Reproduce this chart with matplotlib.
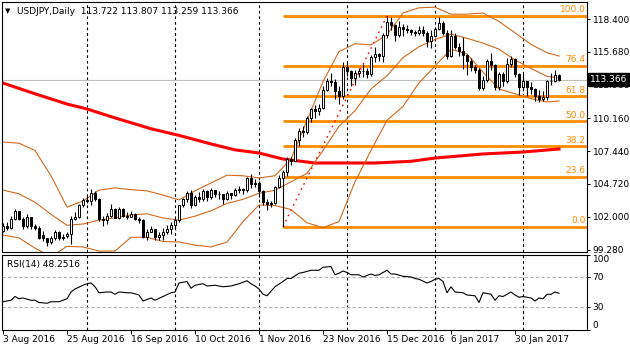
import matplotlib
matplotlib.use("Agg")
import matplotlib.pyplot as plt
import pandas as pd

# daily bars, 3 Aug 2016 .. 14 Feb 2017
bars = pd.bdate_range("2016-08-03", "2017-02-14")

opens = [100.85, 101.20, 101.10, 101.85, 102.45, 101.85, 101.20, 101.95, 101.25, 101.05,
         100.50, 100.20, 99.90, 100.25, 100.75, 100.25, 100.40, 100.55, 101.85, 102.00,
         102.95, 103.40, 103.30, 104.00, 103.45, 101.85, 101.75, 102.10, 102.65, 101.90,
         102.65, 102.10, 102.00, 102.25, 101.80, 101.70, 100.35, 100.75, 100.95, 100.35,
         100.45, 100.70, 101.00, 101.30, 101.75, 102.95, 103.45, 103.95, 102.95, 103.65,
         103.50, 104.15, 103.60, 104.20, 103.85, 103.85, 103.50, 103.95, 103.80, 104.20,
         104.30, 104.20, 105.25, 104.70, 104.80, 104.15, 103.20, 103.05, 103.15, 104.45,
         105.20, 105.70, 106.80, 106.65, 108.40, 109.15, 109.05, 110.20, 110.90, 110.75,
         111.05, 112.55, 113.30, 113.20, 112.40, 112.00, 114.45, 114.05, 113.50, 113.95,
         114.10, 114.05, 113.80, 115.25, 115.50, 115.30, 117.10, 118.15, 117.90, 117.10,
         117.70, 117.55, 117.45, 117.30, 117.25, 117.45, 117.20, 116.55, 117.00, 117.55,
         118.10, 117.25, 115.35, 117.00, 116.10, 115.75, 115.40, 114.90, 114.45, 114.20,
         112.70, 113.35, 114.90, 114.60, 112.75, 113.80, 113.25, 114.65, 115.10, 113.80,
         112.75, 113.25, 112.80, 112.60, 112.00, 111.75, 111.95, 113.25, 113.30, 113.722]
highs = [101.45, 101.55, 102.05, 102.65, 102.50, 101.95, 102.20, 102.00, 101.40, 101.25,
         100.85, 100.25, 100.40, 100.90, 100.85, 100.60, 100.70, 102.05, 102.40, 103.05,
         103.55, 103.75, 104.30, 104.10, 103.55, 102.05, 102.30, 103.05, 102.75, 102.80,
         102.75, 102.40, 102.45, 102.35, 101.95, 101.80, 100.95, 101.20, 101.00, 100.75,
         101.05, 101.30, 101.60, 101.90, 103.00, 103.55, 104.15, 104.20, 103.80, 104.05,
         104.30, 104.20, 104.35, 104.25, 104.10, 103.90, 104.10, 104.00, 104.40, 104.55,
         104.35, 105.30, 105.55, 105.10, 105.00, 104.25, 103.50, 103.35, 104.55, 105.45,
         105.90, 106.95, 106.95, 108.50, 109.35, 109.55, 110.35, 111.00, 111.30, 111.35,
         112.85, 113.50, 113.90, 113.40, 112.85, 114.80, 114.80, 114.15, 114.20, 114.30,
         114.70, 114.35, 115.40, 116.10, 115.60, 117.20, 118.66, 118.60, 118.00, 118.25,
         118.00, 117.90, 117.55, 117.45, 117.80, 117.85, 117.40, 117.50, 117.70, 118.60,
         118.20, 117.50, 117.50, 117.20, 116.45, 116.90, 115.50, 115.20, 114.60, 114.30,
         113.65, 115.05, 115.60, 114.70, 114.00, 114.00, 115.20, 115.35, 115.15, 113.95,
         113.90, 113.30, 113.15, 112.70, 112.50, 112.40, 113.35, 113.95, 114.15, 113.807]
lows = [100.70, 100.90, 100.95, 101.75, 101.70, 100.95, 101.10, 101.00, 100.90, 100.15,
        100.00, 99.55, 99.75, 100.05, 100.10, 100.05, 100.25, 99.75, 101.75, 101.90,
        102.85, 103.15, 102.95, 103.35, 101.65, 101.20, 101.40, 101.95, 101.90, 101.80,
        101.95, 101.85, 101.95, 101.70, 101.45, 100.20, 100.10, 100.70, 100.10, 100.10,
        100.10, 100.60, 100.60, 101.10, 101.60, 102.80, 103.20, 102.75, 102.90, 103.20,
        103.35, 103.30, 103.50, 103.60, 103.50, 103.10, 103.40, 103.50, 103.70, 104.00,
        103.90, 104.05, 104.40, 104.50, 103.60, 102.95, 102.55, 102.80, 103.10, 104.35,
        101.19, 105.40, 106.30, 106.60, 107.85, 108.60, 108.90, 109.90, 110.20, 110.40,
        110.95, 112.40, 112.85, 111.80, 111.36, 111.80, 113.70, 112.85, 112.90, 113.55,
        113.60, 113.50, 113.70, 114.80, 114.90, 114.80, 116.85, 117.50, 116.55, 116.90,
        117.00, 117.20, 117.10, 117.00, 117.05, 116.95, 116.05, 116.00, 116.90, 117.45,
        117.05, 115.05, 115.25, 115.90, 115.35, 114.25, 113.75, 114.10, 113.90, 112.55,
        112.50, 113.20, 114.20, 112.55, 112.50, 112.85, 113.10, 114.45, 113.55, 112.10,
        112.60, 112.05, 112.15, 111.60, 111.55, 111.60, 111.70, 112.90, 113.20, 113.259]
closes = [101.20, 101.10, 101.85, 102.45, 101.85, 101.20, 101.95, 101.25, 101.05, 100.25,
          100.20, 99.90, 100.25, 100.75, 100.25, 100.35, 100.55, 101.85, 102.00, 102.95,
          103.40, 103.30, 104.00, 103.45, 101.85, 101.75, 102.10, 102.65, 101.90, 102.65,
          102.10, 102.00, 102.25, 101.80, 101.70, 100.35, 100.75, 100.95, 100.35, 100.45,
          100.70, 101.00, 101.30, 101.75, 102.95, 103.45, 103.95, 102.95, 103.65, 103.50,
          104.15, 103.60, 104.20, 103.85, 103.87, 103.50, 103.95, 103.80, 104.20, 104.30,
          104.20, 105.25, 104.70, 104.80, 104.15, 103.20, 103.05, 103.15, 104.45, 105.20,
          105.70, 106.80, 106.65, 108.40, 109.15, 109.05, 110.20, 110.90, 110.75, 111.05,
          112.55, 113.30, 113.20, 112.40, 112.00, 114.45, 114.05, 113.50, 113.95, 114.10,
          114.05, 113.80, 115.25, 115.50, 115.30, 117.10, 118.15, 117.90, 117.10, 117.70,
          117.55, 117.45, 117.30, 117.25, 117.45, 117.20, 116.55, 117.00, 117.55, 118.10,
          117.25, 115.35, 117.00, 116.10, 115.75, 115.40, 114.90, 114.45, 114.20, 112.70,
          113.35, 114.90, 114.60, 112.75, 113.80, 113.25, 114.65, 115.10, 113.80, 112.75,
          113.25, 112.80, 112.60, 112.00, 111.75, 111.95, 113.25, 113.30, 113.72, 113.366]

# Bollinger bands (20, 2) read every 4th bar
bb_bars = list(range(0, 137, 4)) + [139]
bb_upper = [108.2, 108.1, 107.5, 105.4, 102.8, 103.3, 104.2, 104.4, 104.25, 104.15,
            103.8, 103.4, 104.15, 104.8, 105.45, 105.4, 105.22, 105.4, 106.8, 110.0,
            113.2, 115.7, 116.35, 116.25, 117.1, 118.9, 119.33, 119.38, 118.8, 118.8,
            118.9, 118.2, 117.25, 116.3, 115.6, 115.33]
bb_mid = [104.22, 103.9, 103.2, 102.2, 101.3, 101.4, 101.72, 101.92, 102.15, 102.25,
          101.9, 101.72, 102.05, 102.5, 103.1, 103.45, 103.95, 104.2, 104.9, 105.6,
          107.5, 109.5, 110.8, 112.6, 113.7, 115.2, 116.1, 116.7, 117.15, 116.8,
          116.4, 115.9, 115.0, 114.3, 113.65, 113.51]
bb_lower = [100.49, 100.25, 99.4, 98.7, 99.55, 99.5, 99.16, 99.16, 100.3, 100.3,
            99.95, 99.91, 99.65, 99.5, 99.9, 101.6, 102.98, 102.93, 102.6, 101.5,
            101.1, 101.6, 104.9, 107.5, 110.0, 111.15, 113.1, 114.5, 115.9, 115.5,
            114.0, 112.6, 112.2, 111.8, 111.52, 111.6]

# 200-day moving average
ma_bars = [0, 8, 16, 21, 28, 37, 44, 52, 58, 64, 70, 78, 87, 93, 102, 108, 120, 130, 139]
ma200 = [113.09, 112.2, 111.35, 110.94, 110.2, 109.3, 108.75, 108.04, 107.55, 107.29,
         106.79, 106.46, 106.46, 106.46, 106.6, 106.87, 107.21, 107.37, 107.62]

# RSI(14)
rsi_bars = [0, 2, 3, 4, 5, 7, 8, 9, 11, 12, 14, 16, 17, 18, 20, 21, 22, 23, 24, 26,
            27, 28, 29, 31, 32, 34, 35, 37, 38, 40, 42, 43, 44, 46, 47, 48, 50, 51, 53, 55,
            57, 59, 61, 62, 63, 64, 65, 66, 68, 70, 71, 72, 74, 75, 77, 79, 80, 82, 83, 84,
            85, 86, 87, 89, 90, 92, 93, 94, 96, 97, 98, 100, 102, 103, 104, 106, 107, 108, 109, 110,
            111, 112, 113, 115, 116, 118, 119, 120, 122, 123, 124, 125, 127, 128, 129, 130, 132, 133, 134, 135,
            136, 137, 138, 139]
rsi = [37, 39, 44, 41, 42, 39, 39, 36, 35, 37, 37, 41, 50, 54, 59, 61, 62, 57, 49, 50,
       50, 47, 50, 49, 49, 46, 38, 42, 39, 44, 49, 50, 62, 64, 55, 59, 61, 58, 59, 57,
       58, 61, 65, 61, 58, 54, 47, 45, 57, 64, 68, 68, 75, 76, 79, 79, 83, 84, 73, 75,
       78, 76, 73, 73, 70, 74, 72, 73, 79, 74, 74, 71, 70, 68, 67, 62, 64, 67, 68, 64,
       49, 57, 50, 49, 46, 45, 36, 49, 47, 39, 45, 44, 50, 46, 43, 44, 42, 38, 42, 41,
       47, 47, 50, 48.2516]

# fibonacci retracement anchors (swing low / swing high)
fib_low, fib_high = 101.19, 118.66
fib_low_bar, fib_high_bar = 70, 96
fib_levels = [0.0, 23.6, 38.2, 50.0, 61.8, 76.4, 100.0]

price_ticks = [118.400, 115.680, 112.960, 110.160, 107.440, 104.720, 102.000, 99.280]
date_labels = ["3 Aug 2016", "25 Aug 2016", "16 Sep 2016", "10 Oct 2016", "1 Nov 2016",
               "23 Nov 2016", "15 Dec 2016", "6 Jan 2017", "30 Jan 2017"]
grid_dates = ["2016-09-01", "2016-10-03", "2016-11-01", "2016-12-01", "2017-01-02", "2017-02-01"]
last_price = 113.366

plt.rcParams['font.family'] = ['DejaVu Sans']
FS = 6.5
W, H = 630, 350
fig = plt.figure(figsize=(6.3, 3.5), dpi=100)
ax = fig.add_axes([2/W, 1-252/H, 585/W, 250/H])
axr = fig.add_axes([2/W, 1-329.5/H, 585/W, 75/H], sharex=ax)

x = list(range(len(bars)))
xmin, xmax = -0.25, 146

# grid lines on month starts
for d in grid_dates:
  gi = bars.get_loc(pd.Timestamp(d))
  for a in (ax, axr):
    a.axvline(gi, color="black", lw=0.8, ls=(0, (2.5, 2.5)), zorder=1)

# bid line
ax.axhline(last_price, color="#c0c0c0", lw=0.8, zorder=1)

# fibonacci
for lv in fib_levels:
  p = fib_low + (fib_high - fib_low) * lv / 100
  ax.plot([fib_low_bar, xmax], [p, p], color="#ff8c00", lw=2.0, zorder=2, solid_capstyle="butt")
  ax.text(145.6, p + 0.12, f"{lv:.1f}", color="#ff8c00", fontsize=FS, ha="right", va="bottom", zorder=6)
ax.plot([fib_low_bar, fib_high_bar], [fib_low, fib_high], color="red", lw=1.0,
        ls=(0, (1.2, 3)), zorder=2)

# indicators
ax.plot(ma_bars, ma200, color="red", lw=2.2, zorder=2)
for band in (bb_upper, bb_mid, bb_lower):
  ax.plot(bb_bars, band, color="#d2691e", lw=0.8, zorder=2)

# candles
ax.vlines(x, lows, highs, color="black", lw=0.8, zorder=3)
bottoms = [min(o, c) for o, c in zip(opens, closes)]
heights = [max(abs(c - o), 0.03) for o, c in zip(opens, closes)]
faces = ["white" if c >= o else "black" for o, c in zip(opens, closes)]
ax.bar(x, heights, bottom=bottoms, width=0.55, color=faces, edgecolor="black", lw=0.7, zorder=4)

ax.set_xlim(xmin, xmax)
ax.set_ylim(99.08, 119.81)
ax.yaxis.tick_right()
ax.set_yticks(price_ticks)
ax.set_yticklabels([f"{t:.3f}" for t in price_ticks], fontsize=FS)
ax.tick_params(axis="y", length=2.5, width=0.7, pad=1.5)
ax.tick_params(axis="x", bottom=False, labelbottom=False)
ax.annotate(f"{last_price:.3f}", xy=(1, last_price), xycoords=("axes fraction", "data"),
            xytext=(2.2, 0), textcoords="offset points", fontsize=FS, color="white",
            va="center", ha="left",
            bbox=dict(boxstyle="square,pad=0.2", fc="black", ec="black"), zorder=10,
            annotation_clip=False)

fig.text(5/W, 1-11/H, "\u25bc", fontsize=5, va="center", ha="left")
fig.text(17/W, 1-11/H, "USDJPY,Daily  113.722 113.807 113.259 113.366", fontsize=FS, va="center", ha="left")

# RSI panel
axr.plot(rsi_bars, rsi, color="black", lw=0.8, zorder=3)
for lv in (70, 30):
  axr.axhline(lv, color="#b0b0b0", lw=0.8, ls=(0, (3, 2)), zorder=1)
axr.set_ylim(0, 100)
axr.yaxis.tick_right()
axr.set_yticks([100, 70, 30, 0])
axr.set_yticklabels(["100", "70", "30", "0"], fontsize=FS)
lbls = axr.get_yticklabels()
lbls[0].set_va("top")
lbls[3].set_va("bottom")
axr.tick_params(axis="y", length=2.5, width=0.7, pad=1.5)
axr.text(0.008, 0.93, "RSI(14) 48.2516", transform=axr.transAxes, fontsize=FS, va="top", ha="left")

tick_pos = [bars.get_loc(pd.Timestamp(d)) for d in pd.to_datetime(date_labels, format="%d %b %Y")]
axr.set_xticks(tick_pos)
axr.set_xticklabels(date_labels, fontsize=FS, ha="left")
axr.tick_params(axis="x", length=3, width=0.7, pad=1)

for a in (ax, axr):
  for s in a.spines.values():
    s.set_linewidth(0.8)

fig.savefig("out.png", dpi=100)
